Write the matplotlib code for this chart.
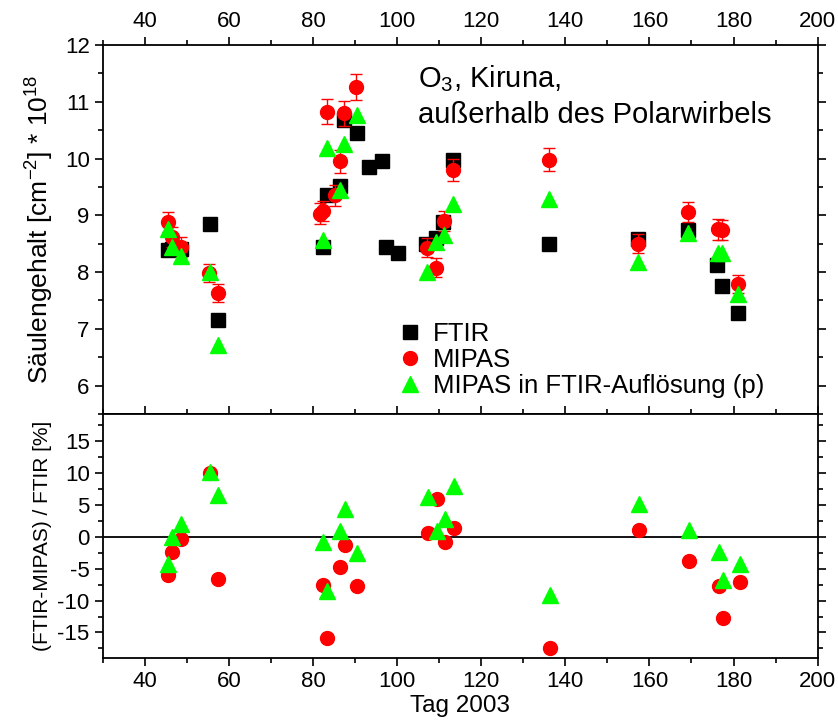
import matplotlib
matplotlib.use("Agg")
import matplotlib.pyplot as plt
from matplotlib.ticker import MultipleLocator
from matplotlib.lines import Line2D

plt.rcParams['font.family'] = ['Liberation Sans', 'DejaVu Sans']
plt.rcParams['mathtext.fontset'] = 'custom'
plt.rcParams['mathtext.rm'] = 'Liberation Sans'
plt.rcParams['mathtext.it'] = 'Liberation Sans:italic'
plt.rcParams['axes.unicode_minus'] = False

# Ozone total columns over Kiruna [1e18 cm^-2]
ftir_day = [45.4, 46.4, 48.5, 55.5, 57.3, 82.4, 83.3, 86.3, 87.3, 90.4, 93.4,
            96.3, 97.4, 100.3, 106.9, 109.3, 110.8, 113.3, 136.1, 157.2,
            169.2, 176.1, 177.2, 181.1]
ftir_col = [8.39, 8.41, 8.40, 8.85, 7.15, 8.44, 9.36, 9.51, 10.68, 10.45, 9.85,
            9.95, 8.45, 8.34, 8.50, 8.60, 8.88, 9.97, 8.50, 8.59,
            8.74, 8.12, 7.76, 7.28]

mipas_day = [45.4, 46.4, 48.5, 55.3, 57.3, 81.6, 82.4, 83.3, 85.2, 86.3, 87.3,
             90.3, 107.1, 109.3, 111.1, 113.3, 136.1, 157.2, 169.2, 176.3,
             177.3, 181.1]
mipas_col = [8.88, 8.62, 8.44, 7.98, 7.63, 9.03, 9.08, 10.82, 9.35, 9.95, 10.80,
             11.26, 8.43, 8.08, 8.90, 9.80, 9.98, 8.50, 9.06, 8.75,
             8.74, 7.79]
mipas_err = [0.18, 0.17, 0.17, 0.16, 0.16, 0.18, 0.18, 0.22, 0.19, 0.20, 0.22,
             0.23, 0.17, 0.16, 0.18, 0.20, 0.20, 0.17, 0.18, 0.18,
             0.18, 0.16]

mipasp_day = [45.4, 46.4, 48.5, 55.4, 57.3, 82.4, 83.3, 86.3, 87.3, 90.4,
              107.1, 109.3, 111.2, 113.3, 136.1, 157.2, 169.2, 176.2, 177.3,
              181.1]
mipasp_col = [8.76, 8.45, 8.28, 8.00, 6.72, 8.56, 10.19, 9.45, 10.25, 10.76,
              8.00, 8.53, 8.65, 9.20, 9.29, 8.17, 8.68, 8.34, 8.33,
              7.62]

# Relative differences (FTIR-MIPAS)/FTIR [%] on coincident days
diff_day = [45.5, 46.5, 48.5, 55.5, 57.5, 82.4, 83.4, 86.5, 87.5, 90.5,
            107.4, 109.4, 111.4, 113.5, 136.4, 157.4, 169.5, 176.5, 177.5,
            181.5]
diff_mipas = [-5.97, -2.4, -0.3, 9.9, -6.7, -7.54, -15.86, -4.77, -1.26, -7.8,
              0.62, 5.85, -0.84, 1.41, -17.5, 0.99, -3.77, -7.8, -12.67,
              -7.12]
diff_mipasp = [-4.24, -0.06, 1.93, 10.1, 6.48, -0.85, -8.53, 0.83, 4.39, -2.57,
               6.22, 0.88, 2.71, 7.9, -9.1, 5.18, 0.99, -2.41, -6.86,
               -4.24]

series_labels = ['FTIR', 'MIPAS', 'MIPAS in FTIR-Auflösung (p)']

RED = '#ff0000'
GREEN = '#00ff00'

fig = plt.figure(figsize=(8.38, 7.22), dpi=100)
ax1 = fig.add_axes([0.1227, 0.4266, 0.853, 0.5111])
ax2 = fig.add_axes([0.1227, 0.0886, 0.853, 0.3380])

tick_fs = 16
for ax in (ax1, ax2):
    for s in ax.spines.values():
        s.set_linewidth(1.3)
    ax.set_xlim(30, 200)
    ax.xaxis.set_major_locator(MultipleLocator(20))
    ax.xaxis.set_minor_locator(MultipleLocator(10))
    ax.tick_params(which='major', direction='out', length=6, width=1.2,
                   labelsize=tick_fs)
    ax.tick_params(which='minor', direction='out', length=3.5, width=1.2)

# upper panel: columns
ax1.plot(ftir_day, ftir_col, ls='none', marker='s', ms=9.4, color='black',
         zorder=3)
ax1.errorbar(mipas_day, mipas_col, yerr=mipas_err, ls='none', marker='o',
             ms=10, color=RED, ecolor=RED, elinewidth=1, capsize=4,
             capthick=1, zorder=4)
ax1.plot(mipasp_day, mipasp_col, ls='none', marker='^', ms=12, color=GREEN,
         zorder=5)
ax1.set_ylim(5.5, 12)
ax1.yaxis.set_major_locator(MultipleLocator(1))
ax1.yaxis.set_minor_locator(MultipleLocator(0.5))
ax1.tick_params(which='both', top=True, labeltop=True, bottom=False,
                labelbottom=False, right=True)
ax1.set_ylabel('Säulengehalt [cm$^{-2}$] * 10$^{18}$', fontsize=19,
               labelpad=6)
ax1.text(0.441, 0.950, 'O$_3$, Kiruna,\naußerhalb des Polarwirbels',
         transform=ax1.transAxes, fontsize=21, va='top', ha='left',
         linespacing=1.3)

handles = [
    Line2D([], [], ls='none', marker='s', ms=9.4, color='black'),
    Line2D([], [], ls='none', marker='o', ms=10, color=RED),
    Line2D([], [], ls='none', marker='^', ms=12, color=GREEN),
]
ax1.legend(handles, series_labels, loc='upper left',
           bbox_to_anchor=(0.411, 0.250), frameon=False, fontsize=18.5,
           handletextpad=0.36, labelspacing=0.08, borderpad=0,
           handlelength=1.05, borderaxespad=0)

# lower panel: relative differences
ax2.axhline(0, color='black', lw=1.3, zorder=1)
ax2.plot(diff_day, diff_mipas, ls='none', marker='o', ms=10, color=RED,
         zorder=3)
ax2.plot(diff_day, diff_mipasp, ls='none', marker='^', ms=12, color=GREEN,
         zorder=4)
ax2.set_ylim(-19, 19.2)
ax2.yaxis.set_major_locator(MultipleLocator(5))
ax2.yaxis.set_minor_locator(MultipleLocator(2.5))
ax2.tick_params(which='both', top=True, right=True)
ax2.set_xlabel('Tag 2003', fontsize=17.5, labelpad=2)
ax2.set_ylabel('(FTIR-MIPAS) / FTIR [%]', fontsize=15, labelpad=4)

fig.savefig('out.png', dpi=100)
